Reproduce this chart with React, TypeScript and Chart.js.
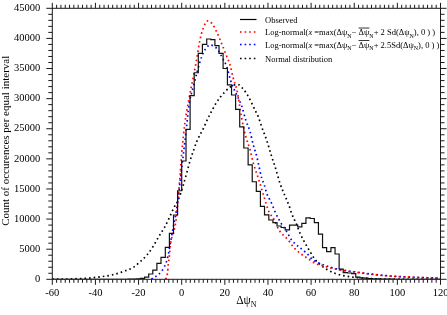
import React, { useEffect, useRef } from 'react';
import { Chart, registerables } from 'chart.js';

Chart.register(...registerables);

const X_MIN = -60;
const X_MAX = 120;
const X_MAJOR = 20;
const X_MINOR = 2;
const Y_MIN = 0;
const Y_MAX = 45000;
const Y_MAJOR = 5000;
const Y_MINOR = 1000;

// Observed histogram: left bin edges and counts
const binEdges = [
  -60, -24.9, -23.0, -21.1, -19.2, -17.2, -15.3, -13.4, -11.5, -9.6, -7.6, -5.7, -3.8, -1.9,
  0.0, 2.0, 3.9, 5.8, 7.7, 9.6, 11.6, 13.5, 15.4, 17.3, 19.2, 21.2, 23.1, 25.0, 26.9, 28.8,
  30.8, 32.7, 34.6, 36.5, 38.4, 40.4, 42.3, 44.2, 46.1, 48.0, 50.0, 51.9, 53.8, 55.7, 57.6,
  59.6, 61.5, 63.4, 65.3, 67.2, 69.2, 71.1, 73.0, 74.9, 76.8, 78.8, 80.7, 82.6, 84.5, 86.4,
  88.4, 90.3, 92.2, 94.1, 96.0, 98.0, 99.9, 120,
];
const observedCounts = [
  0, 20, 40, 80, 150, 350, 880, 1540, 2650, 3650, 5300, 7640, 10680, 14700,
  19640, 24900, 30500, 34300, 37500, 39000, 39900, 39800, 38800, 37500, 35000, 32300, 30600, 28200, 25300, 21800,
  19000, 16200, 14600, 12100, 10700, 9850, 9400, 8850, 8600, 8200, 9000, 9000, 8700, 9300, 10200,
  10100, 9400, 7500, 5250, 4600, 5250, 4200, 1700, 1100, 1050, 950, 350, 250, 180, 120,
  90, 60, 40, 30, 20, 10, 0, 0,
];

// Log-normal, 2 Sd shift (red dotted)
const logNorm2X = [
  -7.4, -6.6, -6.2, -5.7, -5.2, -3.9, -2.6, -2.0, -1.4, -0.7, 0, 1.5, 3.1, 5.4, 7.0, 8.5, 10.0,
  12.0, 14.0, 16.2, 18.8, 20.9, 22.4, 23.9, 25.8, 27.8, 29.7, 31.7, 33.2, 35.5, 38.6, 40.1, 42.9,
  45.1, 49.4, 52.2, 55, 57, 60, 62, 65, 70, 75, 80, 85, 90, 95, 100, 105, 110, 115, 120,
];
const logNorm2Y = [
  0, 1000, 2600, 4000, 5900, 7600, 9850, 12000, 14300, 17500, 20900, 26000, 29500, 33600, 36700, 39800, 41700,
  42900, 42500, 41100, 38900, 37000, 35600, 33400, 31100, 26800, 23700, 21500, 19300, 16800, 13200, 11500, 9850,
  8200, 6500, 5200, 4300, 3800, 3100, 2600, 2300, 1800, 1450, 1200, 950, 750, 580, 450, 360, 300, 250, 210,
];

// Log-normal, 2.5 Sd shift (blue dotted)
const logNorm25X = [
  -14, -13, -11, -9, -8, -7, -6, -5, -4, -3, -2, -1, 0, 2, 3.4, 5.4, 7.2, 9.3, 11.1, 13.1, 15, 17,
  18.8, 20.9, 22.7, 24, 26.6, 27.8, 29.7, 31.7, 33.2, 34.8, 35.5, 37.1, 38.3, 39.4, 41.7, 43.3, 45.6,
  48.7, 51, 53.3, 58, 61, 65, 70, 75, 80, 85, 90, 95, 100, 105, 110, 115, 120,
];
const logNorm25Y = [
  0, 300, 700, 1500, 2100, 3000, 4500, 6500, 8500, 10300, 12500, 15500, 18500, 24500, 29000, 32000, 34500, 37000, 38300, 38900, 38700, 38000,
  36800, 35300, 33000, 31800, 29800, 28800, 26450, 24500, 22300, 20400, 19300, 16800, 15700, 14300, 12600, 11200, 9600,
  7900, 6500, 5700, 4300, 3200, 2500, 1900, 1500, 1250, 1000, 780, 600, 470, 370, 300, 240, 200,
];

// Normal distribution (black dotted)
const normalX = [
  -60, -56, -50, -44, -38, -32, -27, -22.4, -19.3, -16.2, -13, -10.8, -7.7, -5.4, -3.9, -1.6, 0.7, 2.3,
  3.8, 5.4, 7, 8.5, 10, 12, 14, 16, 18, 20, 22, 24.5, 26.5, 28, 30, 32, 34, 35.5, 37.1, 39.4, 41.7,
  43.3, 45.6, 47.1, 48.7, 50.2, 51, 53.3, 54.8, 57.2, 59.5, 61.8, 64, 67, 71, 75, 80, 85, 90, 100, 120,
];
const normalY = [
  15, 30, 80, 180, 400, 750, 1300, 2000, 2900, 4000, 5600, 7000, 8800, 10500, 11700, 13200, 15600, 17600,
  19600, 21300, 22900, 24000, 25000, 26600, 28000, 29300, 30300, 31100, 31800, 32300, 32300, 31800, 30900, 29600, 28100, 27000, 25300, 23100, 20400,
  18700, 15900, 14500, 13200, 11800, 10900, 9100, 7700, 6000, 4600, 3300, 2500, 1700, 1000, 600, 330, 170, 80, 20, 0,
];

const FONT = '"Liberation Serif", "Times New Roman", serif';
const DOTS = [1.6, 3];

type Seg = { t: string; sub?: boolean; it?: boolean; over?: boolean };

const legendRows: { color: string; dash: number[]; segs: Seg[] }[] = [
  { color: '#000000', dash: [], segs: [{ t: 'Observed' }] },
  {
    color: '#ff0000',
    dash: DOTS,
    segs: [
      { t: 'Log-normal(' }, { t: 'x', it: true }, { t: ' =max(Δψ' }, { t: 'N', sub: true }, { t: '− ' },
      { t: 'Δψ', over: true }, { t: 'N', sub: true }, { t: '+ 2 Sd(Δψ' }, { t: 'N', sub: true }, { t: '), 0 ) )' },
    ],
  },
  {
    color: '#0000ff',
    dash: DOTS,
    segs: [
      { t: 'Log-normal(' }, { t: 'x', it: true }, { t: ' =max(Δψ' }, { t: 'N', sub: true }, { t: '− ' },
      { t: 'Δψ', over: true }, { t: 'N', sub: true }, { t: '+ 2.5Sd(Δψ' }, { t: 'N', sub: true }, { t: '), 0 ) )' },
    ],
  },
  { color: '#000000', dash: DOTS, segs: [{ t: 'Normal distribution' }] },
];

const yTitle = 'Count of occurences per equal interval';
const xTitleSegs: Seg[] = [{ t: 'Δψ' }, { t: 'N', sub: true }];

function segFont(s: Seg, size: number) {
  const fs = s.sub ? size * 0.7 : size;
  return `${s.it ? 'italic ' : ''}${fs}px ${FONT}`;
}

function richWidth(ctx: CanvasRenderingContext2D, segs: Seg[], size: number) {
  let w = 0;
  for (const s of segs) {
    ctx.font = segFont(s, size);
    w += ctx.measureText(s.t).width;
  }
  return w;
}

function drawRich(ctx: CanvasRenderingContext2D, segs: Seg[], x: number, y: number, size: number) {
  let cx = x;
  ctx.textAlign = 'left';
  ctx.textBaseline = 'alphabetic';
  for (const s of segs) {
    ctx.font = segFont(s, size);
    const dy = s.sub ? size * 0.3 : 0;
    ctx.fillText(s.t, cx, y + dy);
    const w = ctx.measureText(s.t).width;
    if (s.over) {
      ctx.beginPath();
      ctx.lineWidth = 0.8;
      ctx.setLineDash([]);
      ctx.moveTo(cx, y - size * 0.82);
      ctx.lineTo(cx + w, y - size * 0.82);
      ctx.stroke();
    }
    cx += w;
  }
}

const decorPlugin = {
  id: 'decor',
  afterDraw(chart: any) {
    const ctx: CanvasRenderingContext2D = chart.ctx;
    const { left, right, top, bottom } = chart.chartArea;
    const xs = chart.scales.x;
    const ys = chart.scales.y;
    ctx.save();
    ctx.strokeStyle = '#1a1a1a';
    ctx.fillStyle = '#000';
    ctx.lineWidth = 1;
    ctx.setLineDash([]);
    ctx.strokeRect(left, top, right - left, bottom - top);

    ctx.beginPath();
    for (let v = X_MIN; v <= X_MAX + 1e-9; v += X_MINOR) {
      const px = xs.getPixelForValue(v);
      const major = Math.abs(((v - X_MIN) % X_MAJOR)) < 1e-6;
      const len = major ? 5.5 : 3.5;
      ctx.moveTo(px, bottom);
      ctx.lineTo(px, bottom + len);
      ctx.moveTo(px, top);
      ctx.lineTo(px, top - len);
    }
    for (let v = Y_MIN; v <= Y_MAX + 1e-9; v += Y_MINOR) {
      const py = ys.getPixelForValue(v);
      const major = Math.abs(v % Y_MAJOR) < 1e-6;
      const len = major ? 6 : 4;
      ctx.moveTo(left, py);
      ctx.lineTo(left - len, py);
      ctx.moveTo(right, py);
      ctx.lineTo(right + len, py);
    }
    ctx.stroke();

    // y title
    ctx.save();
    ctx.translate(6.5, (top + bottom) / 2 - 3);
    ctx.rotate(-Math.PI / 2);
    ctx.font = `11px ${FONT}`;
    ctx.textAlign = 'center';
    ctx.textBaseline = 'middle';
    ctx.fillText(yTitle, 0, 0);
    ctx.restore();

    // x title
    const tw = richWidth(ctx, xTitleSegs, 11.5);
    drawRich(ctx, xTitleSegs, (left + right) / 2 - tw / 2, 304, 11.5);

    // legend
    const lx0 = 240;
    const lx1 = 256.5;
    const tx = 265;
    const rowsY = [19.5, 32, 44.5, 58.5];
    legendRows.forEach((row, i) => {
      const y = rowsY[i];
      ctx.beginPath();
      ctx.strokeStyle = row.color;
      ctx.lineWidth = row.dash.length ? 1.7 : 1.2;
      ctx.setLineDash(row.dash);
      ctx.moveTo(lx0, y);
      ctx.lineTo(lx1, y);
      ctx.stroke();
      ctx.setLineDash([]);
      ctx.strokeStyle = '#000';
      ctx.fillStyle = '#000';
      drawRich(ctx, row.segs, tx, y + 3, 8.5);
    });
    ctx.restore();
  },
};

export default function App() {
  const ref = useRef<HTMLCanvasElement>(null);
  useEffect(() => {
    const observed = binEdges.map((e, i) => ({ x: e, y: observedCounts[i] }));
    const ln2 = logNorm2X.map((x, i) => ({ x, y: logNorm2Y[i] }));
    const ln25 = logNorm25X.map((x, i) => ({ x, y: logNorm25Y[i] }));
    const nrm = normalX.map((x, i) => ({ x, y: normalY[i] }));
    const chart = new Chart(ref.current as HTMLCanvasElement, {
      type: 'line',
      data: {
        datasets: [
          {
            label: 'Observed',
            data: observed,
            borderColor: '#111',
            borderWidth: 1.2,
            stepped: true,
            pointRadius: 0,
            fill: false,
          },
          {
            label: 'Log-normal 2 Sd',
            data: ln2,
            borderColor: '#ff0000',
            borderWidth: 1.7,
            borderDash: DOTS,
            cubicInterpolationMode: 'monotone',
            pointRadius: 0,
            fill: false,
          },
          {
            label: 'Log-normal 2.5 Sd',
            data: ln25,
            borderColor: '#0000ff',
            borderWidth: 1.7,
            borderDash: DOTS,
            cubicInterpolationMode: 'monotone',
            pointRadius: 0,
            fill: false,
          },
          {
            label: 'Normal distribution',
            data: nrm,
            borderColor: '#000000',
            borderWidth: 1.7,
            borderDash: DOTS,
            cubicInterpolationMode: 'monotone',
            pointRadius: 0,
            fill: false,
          },
        ] as any,
      },
      options: {
        responsive: false,
        animation: false,
        devicePixelRatio: 1,
        layout: { padding: { left: 0, right: 6.5, top: 8.3, bottom: 0 } },
        plugins: { legend: { display: false }, tooltip: { enabled: false }, title: { display: false } },
        scales: {
          x: {
            type: 'linear',
            min: X_MIN,
            max: X_MAX,
            grid: { display: false, drawTicks: false },
            border: { display: false },
            ticks: {
              stepSize: X_MAJOR,
              autoSkip: false,
              maxRotation: 0,
              padding: 8,
              color: '#000',
              font: { family: FONT, size: 10.5 },
              callback: (v: any) => String(v),
            },
            afterFit: (s: any) => {
              s.height = 35.7;
              s.paddingLeft = 0;
              s.paddingRight = 0;
            },
          },
          y: {
            type: 'linear',
            min: Y_MIN,
            max: Y_MAX,
            grid: { display: false, drawTicks: false },
            border: { display: false },
            ticks: {
              stepSize: Y_MAJOR,
              autoSkip: false,
              padding: 12,
              color: '#000',
              font: { family: FONT, size: 10.5 },
              callback: (v: any) => String(v),
            },
            afterFit: (s: any) => {
              s.width = 52.3;
              s.paddingTop = 0;
              s.paddingBottom = 0;
            },
          },
        },
      } as any,
      plugins: [decorPlugin],
    });
    return () => chart.destroy();
  }, []);
  return (
    <div style={{ position: 'fixed', left: 0, top: 0, width: 447, height: 315, background: '#fff' }}>
      <canvas ref={ref} width={447} height={315} style={{ display: 'block', width: 447, height: 315 }} />
    </div>
  );
}
